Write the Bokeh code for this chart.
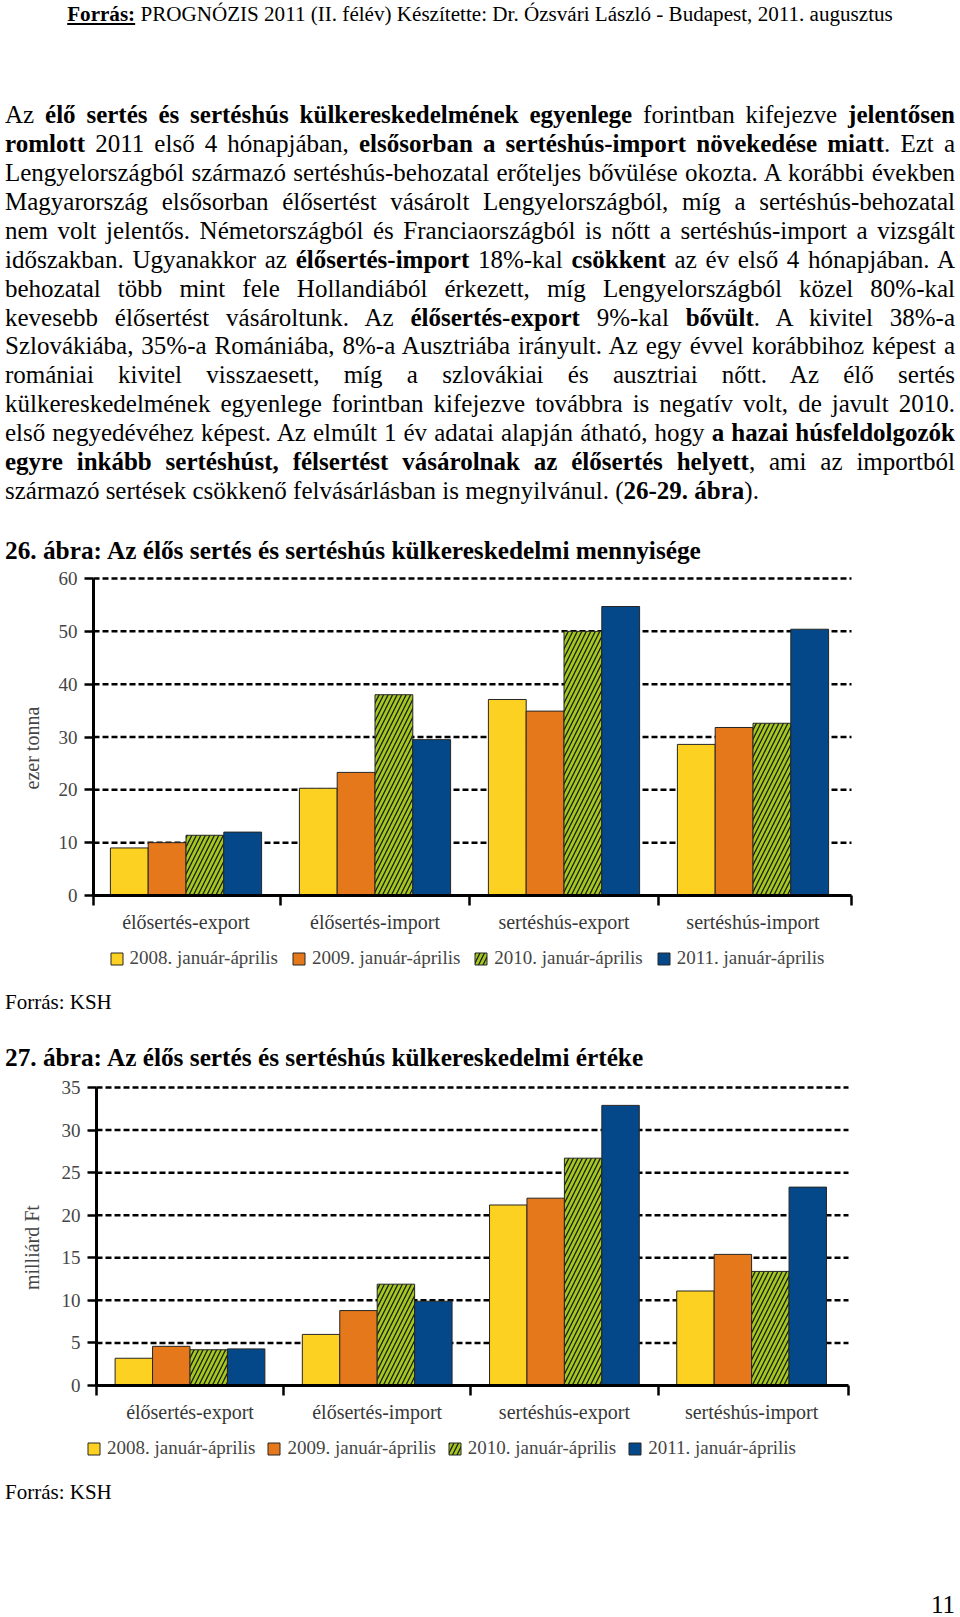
import math
from bokeh.plotting import figure
from bokeh.models import Range1d, FixedTicker, Legend, LegendItem, Div, ColumnDataSource, Label
from bokeh.layouts import column
from bokeh.transform import dodge
from bokeh.embed import file_html
from bokeh.resources import INLINE

# ---------------- data ----------------
categories = ["élősertés-export", "élősertés-import", "sertéshús-export", "sertéshús-import"]
series_labels = ["2008. január-április", "2009. január-április",
                 "2010. január-április", "2011. január-április"]

# 26. ábra – mennyiség (ezer tonna)
qty_2008 = [9.0, 20.3, 37.1, 28.6]
qty_2009 = [10.0, 23.3, 34.9, 31.8]
qty_2010 = [11.4, 38.0, 50.0, 32.6]
qty_2011 = [12.0, 29.5, 54.7, 50.4]
qty_ticks = [0, 10, 20, 30, 40, 50, 60]

# 27. ábra – érték (milliárd Ft)
val_2008 = [3.2, 6.0, 21.2, 11.1]
val_2009 = [4.6, 8.8, 22.0, 15.4]
val_2010 = [4.2, 11.9, 26.7, 13.4]
val_2011 = [4.3, 9.9, 32.9, 23.3]
val_ticks = [0, 5, 10, 15, 20, 25, 30, 35]

# ---------------- style ----------------
SERIF = "Liberation Serif"
COLORS = ["#FCD121", "#E5781A", "#A4C81E", "#044889"]
OFFSETS = [-0.3, -0.1, 0.1, 0.3]
TXT = "#454545"
PAGE_W = 960


def build_chart(series, ticks, ytitle, axis_x, group1_x, cat_w, right_x, axis_px, head_px, below_px,
                title_x, title_val, legend_x, legend_y, legend_spacing):
    """Horizontal positions are given in page pixels and converted to data units."""
    frame_l, frame_r = 10, right_x + 5

    def d(px):
        return (px - group1_x) / cat_w

    ymax = ticks[-1]
    per_unit = axis_px / ymax
    y_end = ymax + head_px / per_unit
    y_start = -below_px / per_unit
    frame_h = axis_px + head_px + below_px
    x_axis0, x_axis1 = d(axis_x), d(right_x)

    p = figure(frame_width=frame_r - frame_l, frame_height=frame_h,
               x_range=Range1d(d(frame_l), d(frame_r)), y_range=Range1d(y_start, y_end),
               output_backend="svg", toolbar_location=None,
               min_border_top=0, min_border_bottom=2,
               min_border_left=frame_l, min_border_right=PAGE_W - frame_r)
    p.outline_line_color = None
    p.background_fill_color = "white"
    p.border_fill_color = "white"
    p.xgrid.visible = False
    p.ygrid.visible = False

    # dashed gridlines from the value axis to the right end
    grid_vals = ticks[1:]
    p.segment(x0=[x_axis0] * len(grid_vals), x1=[x_axis1] * len(grid_vals), y0=grid_vals, y1=grid_vals,
              line_color="black", line_dash="6 3", line_width=2.5, level="underlay")

    src = ColumnDataSource(dict(x=list(range(len(categories))),
                                s0=series[0], s1=series[1], s2=series[2], s3=series[3]))
    renderers = []
    for i in range(4):
        kw = dict(fill_color=COLORS[i], line_color="#262626", line_width=1)
        if i == 2:
            kw.update(hatch_pattern="/", hatch_color="#1a1a1a", hatch_scale=9, hatch_weight=1.3)
        r = p.vbar(x=dodge("x", OFFSETS[i]), top=f"s{i}", bottom=0, width=0.2, source=src, **kw)
        renderers.append(r)

    # value axis
    yax = p.yaxis[0]
    yax.fixed_location = x_axis0
    yax.ticker = FixedTicker(ticks=ticks)
    yax.bounds = (0, ymax)
    yax.major_tick_out = 9
    yax.major_tick_in = 0
    yax.major_tick_line_width = 2.5
    yax.major_tick_line_color = "black"
    yax.minor_tick_line_color = None
    yax.axis_line_width = 3
    yax.axis_line_color = "black"
    yax.major_label_standoff = 7
    yax.major_label_text_font = SERIF
    yax.major_label_text_font_size = "19px"
    yax.major_label_text_color = TXT

    # category axis at value 0: boundary ticks (minor) + category labels (major)
    xax = p.xaxis[0]
    xax.fixed_location = 0
    xax.bounds = (x_axis0, x_axis1)
    xax.ticker = FixedTicker(ticks=[0, 1, 2, 3], minor_ticks=[x_axis0, 0.5, 1.5, 2.5, x_axis1])
    xax.major_label_overrides = {i: c for i, c in enumerate(categories)}
    xax.major_tick_line_color = None
    xax.major_tick_out = 0
    xax.major_tick_in = 0
    xax.minor_tick_out = 10
    xax.minor_tick_in = 0
    xax.minor_tick_line_width = 2.5
    xax.minor_tick_line_color = "black"
    xax.axis_line_width = 3
    xax.axis_line_color = "black"
    xax.major_label_standoff = 5
    xax.major_label_text_font = SERIF
    xax.major_label_text_font_size = "20px"
    xax.major_label_text_color = "#383838"

    # value-axis title
    p.add_layout(Label(x=d(title_x), y=title_val, text=ytitle, angle=math.pi / 2,
                       text_align="center", text_baseline="middle",
                       text_font=SERIF, text_font_size="20px", text_color=TXT))

    legend = Legend(items=[LegendItem(label=series_labels[i], renderers=[renderers[i]]) for i in range(4)],
                    orientation="horizontal", location=(legend_x - frame_l, legend_y),
                    background_fill_alpha=0, border_line_color=None, padding=0, margin=0,
                    spacing=legend_spacing, label_standoff=6, glyph_width=15, glyph_height=15,
                    label_text_font=SERIF, label_text_font_size="19px", label_text_color=TXT)
    p.add_layout(legend)
    return p


p1 = build_chart([qty_2008, qty_2009, qty_2010, qty_2011], qty_ticks, "ezer tonna",
                 axis_x=93, group1_x=185.5, cat_w=189.0, right_x=851, axis_px=317, head_px=14,
                 below_px=80, title_x=31, title_val=27.9, legend_x=108.5, legend_y=6, legend_spacing=13)
p2 = build_chart([val_2008, val_2009, val_2010, val_2011], val_ticks, "milliárd Ft",
                 axis_x=96, group1_x=189.5, cat_w=187.2, right_x=848, axis_px=298, head_px=13,
                 below_px=80, title_x=31, title_val=16.2, legend_x=86, legend_y=6, legend_spacing=11)

# ---------------- text ----------------
header = ('<b><u>Forrás:</u></b> PROGNÓZIS 2011 (II. félév) Készítette: Dr. Ózsvári László - '
          'Budapest, 2011. augusztus')
para_lines = [
    'Az <b>élő sertés és sertéshús külkereskedelmének egyenlege</b> forintban kifejezve <b>jelentősen</b>',
    '<b>romlott</b> 2011 első 4 hónapjában, <b>elsősorban a sertéshús-import növekedése miatt</b>. Ezt a',
    'Lengyelországból származó sertéshús-behozatal erőteljes bővülése okozta. A korábbi években',
    'Magyarország elsősorban élősertést vásárolt Lengyelországból, míg a sertéshús-behozatal',
    'nem volt jelentős. Németországból és Franciaországból is nőtt a sertéshús-import a vizsgált',
    'időszakban. Ugyanakkor az <b>élősertés-import</b> 18%-kal <b>csökkent</b> az év első 4 hónapjában. A',
    'behozatal több mint fele Hollandiából érkezett, míg Lengyelországból közel 80%-kal',
    'kevesebb élősertést vásároltunk. Az <b>élősertés-export</b> 9%-kal <b>bővült</b>. A kivitel 38%-a',
    'Szlovákiába, 35%-a Romániába, 8%-a Ausztriába irányult. Az egy évvel korábbihoz képest a',
    'romániai kivitel visszaesett, míg a szlovákiai és ausztriai nőtt. Az élő sertés',
    'külkereskedelmének egyenlege forintban kifejezve továbbra is negatív volt, de javult 2010.',
    'első negyedévéhez képest. Az elmúlt 1 év adatai alapján átható, hogy <b>a hazai húsfeldolgozók</b>',
    '<b>egyre inkább sertéshúst, félsertést vásárolnak az élősertés helyett</b>, ami az importból',
    'származó sertések csökkenő felvásárlásban is megnyilvánul. (<b>26-29. ábra</b>).',
]
caption26 = '26. ábra: Az élős sertés és sertéshús külkereskedelmi mennyisége'
caption27 = '27. ábra: Az élős sertés és sertéshús külkereskedelmi értéke'
source_txt = 'Forrás: KSH'
page_no = '11'

FONT = "font-family:'Liberation Serif','Times New Roman',serif;color:#000;"
lines_html = ''
for k, ln in enumerate(para_lines):
    if k < len(para_lines) - 1:
        lines_html += f'<div style="text-align:justify;text-align-last:justify;">{ln}</div>'
    else:
        lines_html += f'<div style="text-align:left;">{ln}</div>'

H_TOP, H_MID, H_BOT = 564, 97, 150

top_html = (
    f'<div style="position:relative;width:{PAGE_W}px;height:{H_TOP}px;{FONT}">'
    f'<div style="position:absolute;left:0;top:4px;width:{PAGE_W}px;text-align:center;font-size:21.1px;'
    f'line-height:21px;white-space:nowrap;">{header}</div>'
    f'<div style="position:absolute;left:5px;top:101.2px;width:950px;font-size:25px;line-height:28.9px;">'
    f'{lines_html}</div>'
    f'<div style="position:absolute;left:5px;top:535.6px;font-size:25.3px;line-height:28.4px;'
    f'font-weight:bold;white-space:nowrap;">{caption26}</div>'
    '</div>'
)
mid_html = (
    f'<div style="position:relative;width:{PAGE_W}px;height:{H_MID}px;{FONT}">'
    f'<div style="position:absolute;left:5px;top:14.5px;font-size:21px;line-height:21px;white-space:nowrap;">{source_txt}</div>'
    f'<div style="position:absolute;left:5px;top:66.4px;font-size:25.3px;line-height:28.4px;font-weight:bold;'
    f'white-space:nowrap;">{caption27}</div>'
    '</div>'
)
bot_html = (
    f'<div style="position:relative;width:{PAGE_W}px;height:{H_BOT}px;{FONT}">'
    f'<div style="position:absolute;left:5px;top:14.8px;font-size:21px;line-height:21px;white-space:nowrap;">{source_txt}</div>'
    f'<div style="position:absolute;right:5px;top:128px;font-size:25px;line-height:20px;white-space:nowrap;">{page_no}</div>'
    '</div>'
)

div_top = Div(text=top_html, width=PAGE_W, height=H_TOP, margin=0)
div_mid = Div(text=mid_html, width=PAGE_W, height=H_MID, margin=0)
div_bot = Div(text=bot_html, width=PAGE_W, height=H_BOT, margin=0)

layout = column(div_top, p1, div_mid, p2, div_bot, spacing=0)
open("out.html", "w").write(file_html(layout, INLINE))
